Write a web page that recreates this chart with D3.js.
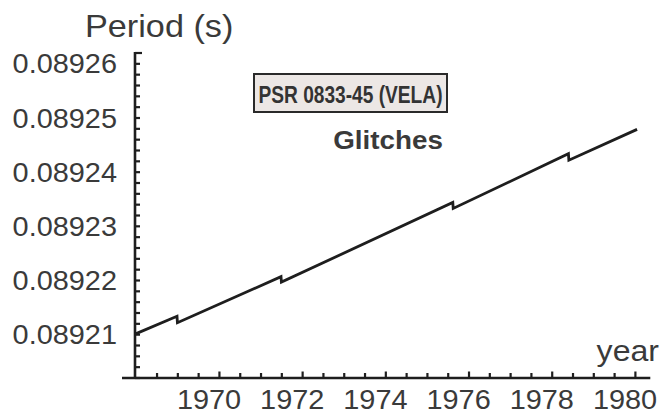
<!DOCTYPE html>
<html>
<head>
<meta charset="utf-8">
<script src="https://cdn.jsdelivr.net/npm/d3@7"></script>
<style>
  html, body { margin: 0; padding: 0; background: #fff; }
  svg { display: block; font-family: "Liberation Sans", Arial, Helvetica, sans-serif; }
</style>
</head>
<body>
<svg id="chart" width="665" height="415"></svg>
<script>
// Vela pulsar period with its glitches (step drops in period)
const epochs  = [1968.22, 1969.23, 1969.24, 1971.73, 1971.74, 1975.86, 1975.87, 1978.64, 1978.65, 1980.29];
const periods = [0.0892101, 0.0892134, 0.0892122, 0.0892207, 0.0892197, 0.0892344, 0.0892333, 0.0892434, 0.0892422, 0.0892479];

const yearLabels   = [1970, 1972, 1974, 1976, 1978, 1980];
const periodLabels = [0.08921, 0.08922, 0.08923, 0.08924, 0.08925, 0.08926];
const titleText = "PSR 0833-45 (VELA)";
const subtitleText = "Glitches";

const svg = d3.select("#chart");
const ink = "#1e1e1e";
const textInk = "#3a3a3a";
const stretch = 1.07;

const x = d3.scaleLinear().domain([1968.22, 1980.56]).range([135, 648.3]);
const y = d3.scaleLinear().domain([0.089202, 0.089262]).range([378, 53]);

// x axis: line extends slightly past the y axis on the left
svg.append("line")
  .attr("x1", 122).attr("x2", x.range()[1] + 2)
  .attr("y1", y(0.089202)).attr("y2", y(0.089202))
  .attr("stroke", ink).attr("stroke-width", 2.6);

// x ticks every half year
const xTicks = d3.range(0, 24).map(i => 1968.75 + i * 0.5);
svg.append("g").selectAll("line").data(xTicks).join("line")
  .attr("x1", d => x(d)).attr("x2", d => x(d))
  .attr("y1", y(0.089202))
  .attr("y2", (d, i) => y(0.089202) - ((i % 4 === 3) ? 6.5 : 5))
  .attr("stroke", ink).attr("stroke-width", 2.2);

// y axis
svg.append("line")
  .attr("x1", x(1968.22)).attr("x2", x(1968.22))
  .attr("y1", y(0.089262) - 1).attr("y2", y(0.089202))
  .attr("stroke", ink).attr("stroke-width", 2.6);

const yTicks = d3.range(0, 31).map(i => 0.089202 + i * 0.000002);
svg.append("g").selectAll("line").data(yTicks).join("line")
  .attr("x1", x(1968.22)).attr("x2", (d, i) => x(1968.22) + (i === 30 ? 7 : 5))
  .attr("y1", d => y(d)).attr("y2", d => y(d))
  .attr("stroke", ink).attr("stroke-width", 2.2);

// helper for slightly widened text
function label(txt, px, py, size, anchor, weight) {
  svg.append("text")
    .attr("transform", `translate(${px},${py}) scale(${stretch},1)`)
    .attr("text-anchor", anchor)
    .attr("font-size", size)
    .attr("font-weight", weight || "normal")
    .attr("fill", textInk)
    .text(txt);
}

yearLabels.forEach(yr => label(String(yr), x(yr), 409, 27, "middle"));
periodLabels.forEach(p => label(p.toFixed(5), 117, y(p) + 9.5, 27, "end"));

label("Period (s)", 85, 37, 32, "start");
label("year", 659, 361, 30, "end");

// the period curve
const line = d3.line().x(d => x(d[0])).y(d => y(d[1]));
svg.append("path")
  .datum(epochs.map((e, i) => [e, periods[i]]))
  .attr("d", line)
  .attr("fill", "none")
  .attr("stroke", ink)
  .attr("stroke-width", 2.8)
  .attr("stroke-linejoin", "miter");

// title box
svg.append("rect")
  .attr("x", 254).attr("y", 74).attr("width", 193).attr("height", 38)
  .attr("fill", "#ece7e5").attr("stroke", "#2a2a2a").attr("stroke-width", 2);
svg.append("text")
  .attr("x", 350.5).attr("y", 102.5)
  .attr("text-anchor", "middle")
  .attr("font-size", 24.5).attr("font-weight", "bold")
  .attr("textLength", 184).attr("lengthAdjust", "spacingAndGlyphs")
  .attr("fill", "#333")
  .text(titleText);

label(subtitleText, 388, 149, 26, "middle", "bold");
</script>
</body>
</html>
